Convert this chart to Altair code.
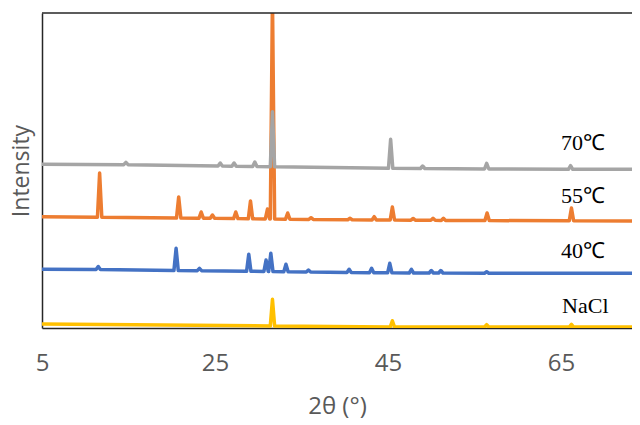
import altair as alt
import pandas as pd

# ---- data (x = 2θ in degrees, y = offset intensity) ----
NACL_START = (5.0, 4.0)
NACL_END = (74.5, 1.0)
NACL_PEAK_X = [31.64, 45.5, 56.4, 66.2]
NACL_PEAK_TOP = [28.7, 7.3, 3.3, 3.7]
NACL_PEAK_BASE = [2.0, 1.0, 1.0, 1.0]

C40_START = (5.0, 58.7)
C40_END = (74.5, 54.7)
C40_PEAK_X = [11.5, 20.5, 23.2, 28.9, 30.9, 31.45, 33.2, 35.8, 40.5, 43.1, 45.2, 47.7, 50.0, 51.1, 56.4]
C40_PEAK_TOP = [61.5, 79.7, 59.7, 73.7, 68.0, 74.7, 63.7, 58.0, 58.7, 59.7, 64.7, 58.7, 57.5, 57.5, 56.3]
C40_PEAK_BASE = [58.5, 57.5, 57.3, 56.8, 56.5, 56.5, 56.2, 56.0, 55.5, 55.3, 55.2, 55.0, 55.0, 55.0, 54.8]

C55_START = (5.0, 111.3)
C55_END = (74.5, 107.0)
C55_PEAK_X = [11.66, 20.8, 23.4, 24.7, 27.4, 29.1, 31.06, 31.64, 33.4, 36.1, 40.6, 43.4, 45.5, 47.9, 50.2, 51.4, 56.45, 66.2]
C55_PEAK_TOP = [155, 131, 116, 113, 116, 127, 119, 330, 115, 110.3, 109.7, 111.3, 121, 109.5, 109.7, 109.7, 115, 120]
C55_PEAK_BASE = [110.8, 110.0, 109.8, 109.7, 109.4, 109.2, 109.0, 109.0, 108.8, 108.6, 108.3, 108.0, 108.0, 107.8, 107.7, 107.6, 107.4, 107.3]

C70_START = (5.0, 163.7)
C70_END = (74.5, 158.7)
C70_PEAK_X = [14.7, 25.6, 27.2, 29.6, 31.64, 45.3, 49.0, 56.4, 66.1]
C70_PEAK_TOP = [165.7, 165.0, 165.0, 166.0, 216.3, 188.7, 162.0, 164.7, 162.3]
C70_PEAK_BASE = [163.3, 162.0, 161.8, 161.5, 161.3, 159.7, 159.5, 159.0, 158.7]

LABELS = ["70℃", "55℃", "40℃", "NaCl"]
LABEL_X = [67.55, 67.55, 67.55, 67.8]
LABEL_Y = [178.0, 124.7, 69.7, 14.7]

X_TICKS = [5, 25, 45, 65]
X_DOMAIN = [5, 73.2]
Y_DOMAIN = [0, 315]

PEAK_HALF = 0.25


def build(name, start, end, px, tops, bases):
    xs = [start[0]]
    ys = [start[1]]
    for p, t, b in zip(px, tops, bases):
        xs += [p - PEAK_HALF, p, p + PEAK_HALF]
        ys += [b, t, b]
    xs.append(end[0])
    ys.append(end[1])
    return pd.DataFrame({"x": xs, "y": ys, "i": list(range(len(xs))), "series": name})


series = [
    ("NaCl", "#FFC000", build("NaCl", NACL_START, NACL_END, NACL_PEAK_X, NACL_PEAK_TOP, NACL_PEAK_BASE)),
    ("40℃", "#4472C4", build("40℃", C40_START, C40_END, C40_PEAK_X, C40_PEAK_TOP, C40_PEAK_BASE)),
    ("55℃", "#ED7D31", build("55℃", C55_START, C55_END, C55_PEAK_X, C55_PEAK_TOP, C55_PEAK_BASE)),
    ("70℃", "#A5A5A5", build("70℃", C70_START, C70_END, C70_PEAK_X, C70_PEAK_TOP, C70_PEAK_BASE)),
]

AXIS_COLOR = "#262626"
TEXT_GRAY = "#595959"

x_enc = alt.X(
    "x:Q",
    scale=alt.Scale(domain=X_DOMAIN, nice=False, zero=False),
    axis=alt.Axis(
        values=X_TICKS,
        title="2θ (°)",
        ticks=False,
        tickSize=0,
        grid=False,
        labelPadding=23,
        titlePadding=19,
        titleFontSize=24,
        domainColor=AXIS_COLOR,
        domainWidth=1.5,
        labelFlush=False,
    ),
)
y_enc = alt.Y(
    "y:Q",
    scale=alt.Scale(domain=Y_DOMAIN, nice=False, zero=False),
    axis=alt.Axis(
        title="Intensity",
        labels=False,
        ticks=False,
        grid=False,
        titlePadding=9,
        titleFontSize=23,
        domainColor=AXIS_COLOR,
        domainWidth=1.5,
    ),
)

layers = []
for name, color, df in series:
    layers.append(
        alt.Chart(df)
        .mark_line(clip=True, color=color, strokeWidth=3.5, strokeJoin="round", strokeCap="butt")
        .encode(x=x_enc, y=y_enc, order="i:Q")
    )

top_border = (
    alt.Chart(pd.DataFrame({"y": [Y_DOMAIN[1]]}))
    .mark_rule(color=AXIS_COLOR, strokeWidth=1.5)
    .encode(y=alt.Y("y:Q", scale=alt.Scale(domain=Y_DOMAIN, nice=False, zero=False)))
)

labels = (
    alt.Chart(pd.DataFrame({"label": LABELS, "x": LABEL_X, "y": LABEL_Y}))
    .mark_text(font="Liberation Serif", fontSize=22, color="#000000", align="center", baseline="alphabetic")
    .encode(x="x:Q", y="y:Q", text="label:N")
)

chart = (
    alt.layer(*layers, top_border, labels)
    .properties(
        width=590,
        height=315,
        padding={"left": 34, "top": 5, "right": 0, "bottom": 92},
        autosize=alt.AutoSizeParams(type="none"),
    )
    .configure_view(stroke=None)
    .configure_axis(
        labelFont="Open Sans",
        labelFontSize=24,
        labelColor=TEXT_GRAY,
        titleFont="Open Sans",
        titleColor=TEXT_GRAY,
        titleFontWeight="normal",
    )
)

chart.save("out.html", embed_options={"renderer": "svg", "actions": False})
